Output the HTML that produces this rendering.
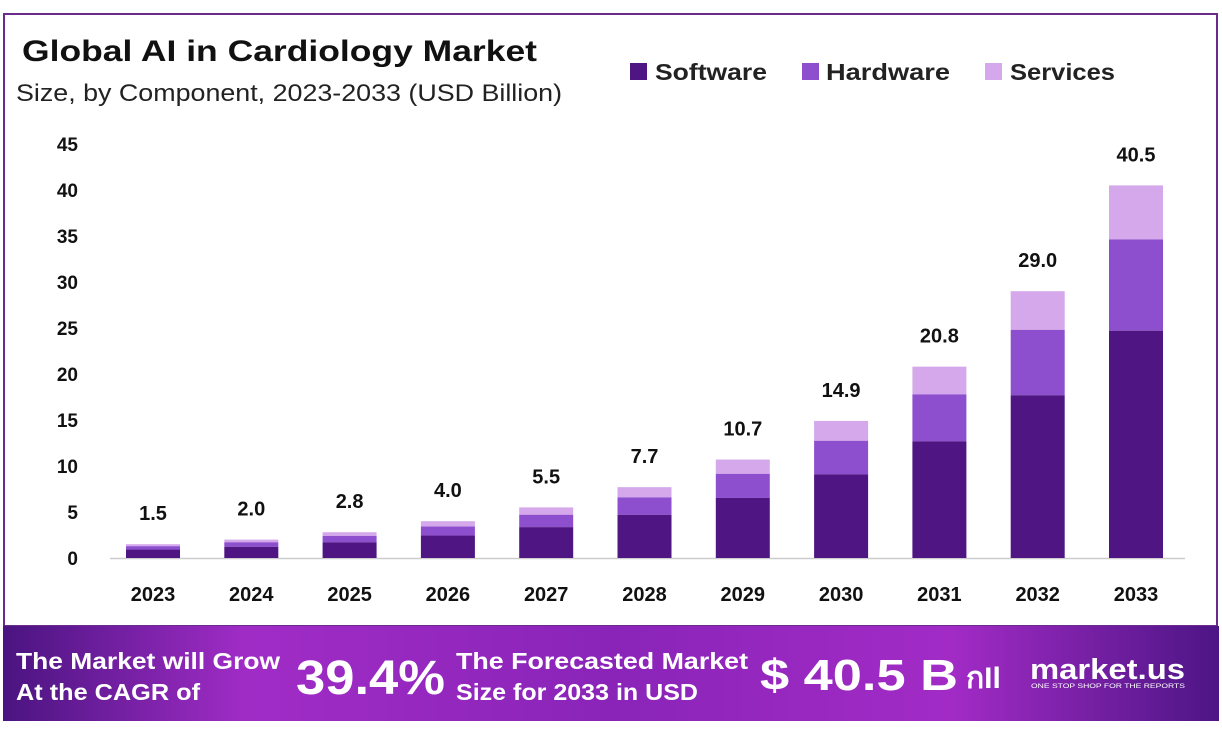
<!DOCTYPE html>
<html><head><meta charset="utf-8"><style>
body{margin:0;width:1222px;height:735px;background:#fff;overflow:hidden;font-family:"Liberation Sans",sans-serif}
</style></head><body>
<svg id="s" width="1222" height="735" xmlns="http://www.w3.org/2000/svg" font-family="Liberation Sans, sans-serif">
<defs><linearGradient id="g" x1="0" x2="1" y1="0" y2="0">
<stop offset="0" stop-color="#4a1480"/><stop offset="0.2" stop-color="#a02cc6"/><stop offset="0.5" stop-color="#8a24b8"/><stop offset="0.78" stop-color="#a22bc6"/><stop offset="1" stop-color="#4d1585"/></linearGradient></defs>
<rect x="4" y="14" width="1213" height="612" fill="#fff" stroke="#6a2c8c" stroke-width="2"/>
<rect x="3" y="626" width="1216" height="95" fill="url(#g)"/>
<text x="22" y="61" font-size="30" font-weight="bold" fill="#111" textLength="515" lengthAdjust="spacingAndGlyphs">Global AI in Cardiology Market</text>
<text x="16" y="101" font-size="24" fill="#222" textLength="546" lengthAdjust="spacingAndGlyphs">Size, by Component, 2023-2033 (USD Billion)</text>
<rect x="630" y="63" width="17" height="17" fill="#4f1683"/><text x="655" y="80" font-size="23" font-weight="bold" fill="#222" textLength="112" lengthAdjust="spacingAndGlyphs">Software</text>
<rect x="802" y="63" width="17" height="17" fill="#8e4fcf"/><text x="826" y="80" font-size="23" font-weight="bold" fill="#222" textLength="124" lengthAdjust="spacingAndGlyphs">Hardware</text>
<rect x="985" y="63" width="17" height="17" fill="#d4a8ea"/><text x="1010" y="80" font-size="23" font-weight="bold" fill="#222" textLength="105" lengthAdjust="spacingAndGlyphs">Services</text>
<line x1="110" y1="558.5" x2="1185" y2="558.5" stroke="#ccc" stroke-width="1.5"/>
<g id="bars"></g>
<text x="16" y="669" font-size="23" font-weight="bold" fill="#fff" textLength="264" lengthAdjust="spacingAndGlyphs">The Market will Grow</text>
<text x="16" y="700" font-size="23" font-weight="bold" fill="#fff" textLength="184" lengthAdjust="spacingAndGlyphs">At the CAGR of</text>
<text x="296" y="694" font-size="48" font-weight="bold" fill="#fff" textLength="149" lengthAdjust="spacingAndGlyphs">39.4%</text>
<text x="456" y="669" font-size="23" font-weight="bold" fill="#fff" textLength="292" lengthAdjust="spacingAndGlyphs">The Forecasted Market</text>
<text x="456" y="700" font-size="23" font-weight="bold" fill="#fff" textLength="242" lengthAdjust="spacingAndGlyphs">Size for 2033 in USD</text>
<text x="760" y="690" font-size="44" font-weight="bold" fill="#fff" textLength="198" lengthAdjust="spacingAndGlyphs">$ 40.5 B</text>
<text x="966" y="688" font-size="30" font-weight="bold" fill="#fff">กIl</text>
<text x="1030" y="679" font-size="29" font-weight="bold" fill="#fff" textLength="155" lengthAdjust="spacingAndGlyphs">market.us</text>
<text x="1031" y="688" font-size="6" fill="#fff" textLength="154" lengthAdjust="spacingAndGlyphs">ONE STOP SHOP FOR THE REPORTS</text>
</svg>
<script>
var data=[1.5,2.0,2.8,4.0,5.5,7.7,10.7,14.9,20.8,29.0,40.5],years=[2023,2024,2025,2026,2027,2028,2029,2030,2031,2032,2033];
var g=document.getElementById('bars'),h='',sc=9.2,base=558;
for(var t=0;t<=45;t+=5){h+='<text x="78" y="'+(base-t*sc+7)+'" font-size="19" font-weight="bold" text-anchor="end" fill="#111">'+t+'</text>';}
for(var i=0;i<11;i++){var cx=153+i*98.3,v=data[i],x=cx-27;
var s=v*0.61,hw=v*0.245;
var y1=base-s*sc,y2=y1-hw*sc,y3=base-v*sc;
h+='<rect x="'+x+'" y="'+y3+'" width="54" height="'+(y2-y3)+'" fill="#d4a8ea"/>';
h+='<rect x="'+x+'" y="'+y2+'" width="54" height="'+(y1-y2)+'" fill="#8e4fcf"/>';
h+='<rect x="'+x+'" y="'+y1+'" width="54" height="'+(base-y1)+'" fill="#4f1683"/>';
h+='<text x="'+cx+'" y="'+(y3-24)+'" font-size="20" font-weight="bold" text-anchor="middle" fill="#111">'+v.toFixed(1)+'</text>';
h+='<text x="'+cx+'" y="601" font-size="20" font-weight="bold" text-anchor="middle" fill="#111">'+years[i]+'</text>';}
g.innerHTML=h;
</script>
</body></html>
